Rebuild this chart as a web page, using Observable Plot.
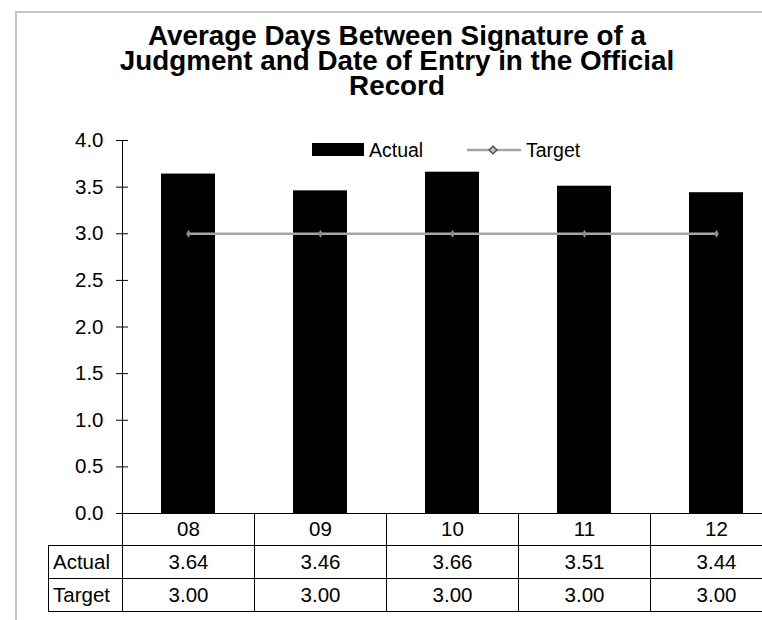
<!DOCTYPE html>
<html>
<head>
<meta charset="utf-8">
<script src="https://cdn.jsdelivr.net/npm/d3@7"></script>
<script src="https://cdn.jsdelivr.net/npm/@observablehq/plot@0.6"></script>
<style>
  html, body { margin: 0; padding: 0; background: #fff; overflow: hidden; }
  #wrap { position: relative; width: 762px; height: 620px; overflow: hidden; font-family: "Liberation Sans", Arial, sans-serif; color: #000; }
  #frame { position: absolute; left: 15px; top: 11px; width: 900px; height: 700px; border-left: 2px solid #c6c6c6; border-top: 2px solid #c6c6c6; }
  #title { position: absolute; left: 15px; width: 764px; top: 23px; text-align: center; font-weight: bold; font-size: 27.8px; line-height: 25px; }
  #chart { position: absolute; left: 0; top: 0; width: 782px; }
  #legend { position: absolute; top: 140px; left: 0; height: 20px; font-size: 19.5px; }
  .lg { position: absolute; white-space: nowrap; line-height: 20px; }
  table#tbl { position: absolute; border-collapse: collapse; table-layout: fixed; font-size: 20.5px; }
  #tbl td { padding: 0; text-align: center; border: 1px solid #000; }
  #tbl td.hd { text-align: left; padding-left: 4px; }
</style>
</head>
<body>
<div id="wrap">
  <div id="frame"></div>
  <div id="title">Average Days Between Signature of a<br>Judgment and Date of Entry in the Official<br>Record</div>
  <div id="chart"></div>
  <div id="legend"></div>
</div>
<script>
const categories = ["08", "09", "10", "11", "12"];
const actual = [3.64, 3.46, 3.66, 3.51, 3.44];
const target = [3.00, 3.00, 3.00, 3.00, 3.00];
const seriesNames = ["Actual", "Target"];
const yTicks = [0, 0.5, 1, 1.5, 2, 2.5, 3, 3.5, 4];

const data = categories.map((c, i) => ({cat: c, actual: actual[i], target: target[i]}));

const chart = Plot.plot({
  width: 782,
  height: 620,
  marginLeft: 122,
  marginRight: 0,
  marginTop: 140,
  marginBottom: 107,
  style: {fontFamily: "'Liberation Sans', Arial, sans-serif", fontSize: "20.5px", background: "transparent", overflow: "visible", maxWidth: "none"},
  x: {type: "band", domain: categories, padding: 0, axis: null},
  y: {domain: [0, 4], axis: null},
  marks: [
    Plot.barY(data, {x: "cat", y: "actual", fill: "#000", insetLeft: 39, insetRight: 39}),
    Plot.ruleY([0], {stroke: "#000", strokeWidth: 1}),
    Plot.frame({anchor: "left", stroke: "#000", strokeWidth: 1}),
    Plot.axisY({ticks: yTicks, tickSize: 12, dx: 6, tickFormat: () => "", stroke: "#000"}),
    Plot.axisY({ticks: yTicks, tickSize: 0, tickPadding: 19, tickFormat: d3.format(".1f"), fill: "#000", fontSize: 20.5}),
    Plot.line(data, {x: "cat", y: "target", stroke: "#a6a6a6", strokeWidth: 2.5}),
    Plot.dot(data, {x: "cat", y: "target", symbol: "diamond", r: 2.5, fill: "#8c8c8c", stroke: "none"})
  ]
});
document.getElementById("chart").appendChild(chart);

// Data table under the chart, aligned with the x scale
const xs = chart.scale("x");
const left = 48;
const x0 = xs.range[0];
const tbl = document.createElement("table");
tbl.id = "tbl";
tbl.style.left = left + "px";
tbl.style.top = (620 - 107) + "px";
const colgroup = document.createElement("colgroup");
const c0 = document.createElement("col"); c0.style.width = (x0 - left) + "px"; colgroup.appendChild(c0);
xs.domain.forEach(() => { const c = document.createElement("col"); c.style.width = xs.step + "px"; colgroup.appendChild(c); });
tbl.appendChild(colgroup);
tbl.style.width = (x0 - left + xs.step * xs.domain.length) + "px";

const r0 = tbl.insertRow();
r0.style.height = "32px";
const h0 = r0.insertCell(); h0.style.borderLeft = "none"; h0.style.borderTop = "none";
categories.forEach(c => { const td = r0.insertCell(); td.textContent = c; td.style.borderTop = "none"; });
[actual, target].forEach((vals, k) => {
  const r = tbl.insertRow();
  r.style.height = "33px";
  const h = r.insertCell(); h.className = "hd"; h.textContent = seriesNames[k];
  vals.forEach(v => { const td = r.insertCell(); td.textContent = v.toFixed(2); });
});
document.getElementById("wrap").appendChild(tbl);

// Legend
const lg = document.getElementById("legend");
lg.innerHTML = `
  <div class="lg" style="left:312px;top:3px;width:52px;height:13px;background:#000"></div>
  <div class="lg" style="left:369px;top:0px;">${seriesNames[0]}</div>
  <svg class="lg" style="left:466px;top:0px" width="56" height="20">
    <line x1="1" y1="10" x2="55" y2="10" stroke="#a6a6a6" stroke-width="2.5"/>
    <path d="M27,6 L31,10 L27,14 L23,10 Z" fill="#bbb" stroke="#444" stroke-width="1.2"/>
  </svg>
  <div class="lg" style="left:526px;top:0px;">${seriesNames[1]}</div>`;
</script>
</body>
</html>
